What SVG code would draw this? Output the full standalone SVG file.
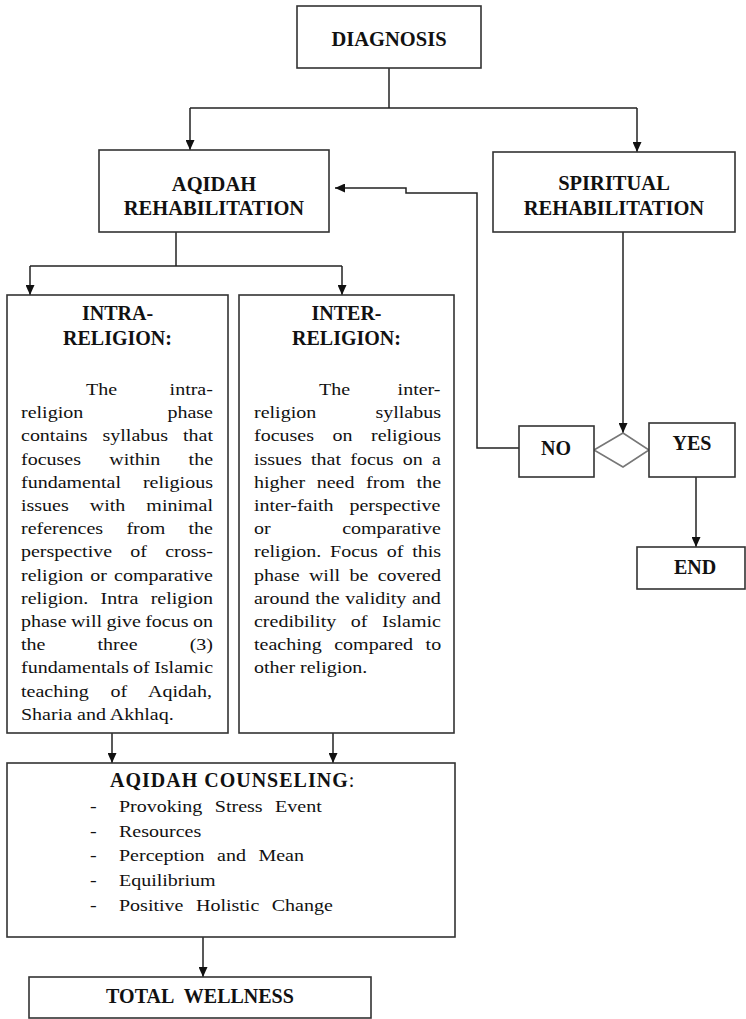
<svg xmlns="http://www.w3.org/2000/svg" width="746" height="1019" viewBox="0 0 746 1019">
<style>
.box{fill:#fff;stroke:#333;stroke-width:1.6}
.dia{fill:#fff;stroke:#777;stroke-width:1.6}
.ln{fill:none;stroke:#222;stroke-width:1.5}
.h{font-family:"Liberation Serif","Nimbus Roman","Tinos","DejaVu Serif",serif;font-weight:bold;font-size:20.5px;fill:#111;text-anchor:middle}
.hs{font-family:"Liberation Serif","Nimbus Roman","Tinos","DejaVu Serif",serif;font-weight:bold;font-size:20px;fill:#111;text-anchor:middle}
.b{font-family:"Liberation Serif","Nimbus Roman","Tinos","DejaVu Serif",serif;font-size:16px;fill:#111}
.t{font-family:"Liberation Serif","Nimbus Roman","Tinos","DejaVu Serif",serif;font-size:20px;fill:#111}
</style>
<defs>
<marker id="ah" viewBox="0 0 10 10" refX="10" refY="5" markerWidth="10" markerHeight="9" markerUnits="userSpaceOnUse" orient="auto" preserveAspectRatio="none">
<path d="M0,0 L10,5 L0,10 z" fill="#111"/>
</marker>
</defs>

<g id="connectors">
<path class="ln" d="M389,68 V108"/>
<path class="ln" d="M190,108 H637"/>
<path class="ln" d="M190,108 V150" marker-end="url(#ah)"/>
<path class="ln" d="M637,108 V152" marker-end="url(#ah)"/>
<path class="ln" d="M176,232 V266"/>
<path class="ln" d="M30,266 H342"/>
<path class="ln" d="M30,266 V295" marker-end="url(#ah)"/>
<path class="ln" d="M342,266 V295" marker-end="url(#ah)"/>
<path class="ln" d="M112,733 V763" marker-end="url(#ah)"/>
<path class="ln" d="M333,733 V763" marker-end="url(#ah)"/>
<path class="ln" d="M203,937 V977" marker-end="url(#ah)"/>
<path class="ln" d="M623,232 V433" marker-end="url(#ah)"/>
<path class="ln" d="M519,448 H477 V193 H406 V188 H335" marker-end="url(#ah)"/>
<path class="ln" d="M696,477 V547" marker-end="url(#ah)"/>
</g>

<g id="diagnosis">
<rect class="box" x="297" y="6" width="184" height="62"/>
<text class="h" x="389" y="46">DIAGNOSIS</text>
</g>

<g id="aqidah-rehab">
<rect class="box" x="99" y="150" width="230" height="82"/>
<text class="h" x="214" y="191">AQIDAH</text>
<text class="h" x="214" y="215">REHABILITATION</text>
</g>

<g id="spiritual-rehab">
<rect class="box" x="493" y="152" width="242" height="80"/>
<text class="h" x="614" y="190">SPIRITUAL</text>
<text class="h" x="614" y="215">REHABILITATION</text>
</g>

<g id="intra">
<rect class="box" x="7" y="295" width="221" height="438"/>
<text class="hs" x="117.5" y="320">INTRA-</text>
<text class="hs" x="117.5" y="345">RELIGION:</text>
<g transform="scale(1.25 1)">
<text class="b" x="68.8" y="395" word-spacing="38">The intra-</text>
<text class="b" x="16.8" y="418.2" word-spacing="63.4">religion phase</text>
<text class="b" x="16.8" y="441.4" word-spacing="7.9">contains syllabus that</text>
<text class="b" x="16.8" y="464.6" word-spacing="18.6">focuses within the</text>
<text class="b" x="16.8" y="487.8" word-spacing="13.6">fundamental religious</text>
<text class="b" x="16.8" y="511" word-spacing="12.8">issues with minimal</text>
<text class="b" x="16.8" y="534.2" word-spacing="14.6">references from the</text>
<text class="b" x="16.8" y="557.4" word-spacing="10.6">perspective of cross-</text>
<text class="b" x="16.8" y="580.6" word-spacing="1.7">religion or comparative</text>
<text class="b" x="16.8" y="603.8" word-spacing="5.9">religion. Intra religion</text>
<text class="b" x="16.8" y="627" word-spacing="-0.5">phase will give focus on</text>
<text class="b" x="16.8" y="650.2" word-spacing="37.7">the three (3)</text>
<text class="b" x="16.8" y="673.4" word-spacing="-0.5">fundamentals of Islamic</text>
<text class="b" x="16.8" y="696.6" word-spacing="13.5">teaching of Aqidah,</text>
<text class="b" x="16.8" y="719.8">Sharia and Akhlaq.</text>
</g>
</g>

<g id="inter">
<rect class="box" x="239" y="295" width="215" height="438"/>
<text class="hs" x="346.5" y="320">INTER-</text>
<text class="hs" x="346.5" y="345">RELIGION:</text>
<g transform="scale(1.25 1)">
<text class="b" x="255.2" y="395" word-spacing="34">The inter-</text>
<text class="b" x="203.2" y="418.2" word-spacing="43.4">religion syllabus</text>
<text class="b" x="203.2" y="441.4" word-spacing="10.8">focuses on religious</text>
<text class="b" x="203.2" y="464.6" word-spacing="3.4">issues that focus on a</text>
<text class="b" x="203.2" y="487.8" word-spacing="5.3">higher need from the</text>
<text class="b" x="203.2" y="511" word-spacing="8.7">inter-faith perspective</text>
<text class="b" x="203.2" y="534.2" word-spacing="53.2">or comparative</text>
<text class="b" x="203.2" y="557.4" word-spacing="3.1">religion. Focus of this</text>
<text class="b" x="203.2" y="580.6" word-spacing="3.5">phase will be covered</text>
<text class="b" x="203.2" y="603.8" word-spacing="0.5">around the validity and</text>
<text class="b" x="203.2" y="627" word-spacing="7.7">credibility of Islamic</text>
<text class="b" x="203.2" y="650.2" word-spacing="6">teaching compared to</text>
<text class="b" x="203.2" y="673.4">other religion.</text>
</g>
</g>

<g id="decision">
<polygon class="dia" points="594,450 623,433 649,450 623,467"/>
</g>

<g id="no">
<rect class="box" x="519" y="426" width="75" height="51"/>
<text class="hs" x="556" y="455">NO</text>
</g>

<g id="yes">
<rect class="box" x="649" y="423" width="86" height="54"/>
<text class="hs" x="692" y="450">YES</text>
</g>

<g id="end">
<rect class="box" x="637" y="547" width="108" height="42"/>
<text class="hs" x="695" y="574">END</text>
</g>

<g id="counseling">
<rect class="box" x="7" y="763" width="448" height="174"/>
<text class="t" x="110" y="787"><tspan font-weight="bold" letter-spacing="1">AQIDAH COUNSELING</tspan>:</text>
<g transform="scale(1.25 1)">
<text class="b" x="72" y="812">-</text>
<text class="b" x="95.2" y="812" word-spacing="6">Provoking Stress Event</text>
<text class="b" x="72" y="837">-</text>
<text class="b" x="95.2" y="837" word-spacing="6">Resources</text>
<text class="b" x="72" y="861">-</text>
<text class="b" x="95.2" y="861" word-spacing="6">Perception and Mean</text>
<text class="b" x="72" y="886">-</text>
<text class="b" x="95.2" y="886" word-spacing="6">Equilibrium</text>
<text class="b" x="72" y="911">-</text>
<text class="b" x="95.2" y="911" word-spacing="6">Positive Holistic Change</text>
</g>
</g>

<g id="total-wellness">
<rect class="box" x="29" y="977" width="342" height="41"/>
<text class="hs" x="200" y="1003" word-spacing="6">TOTAL WELLNESS</text>
</g>
</svg>
